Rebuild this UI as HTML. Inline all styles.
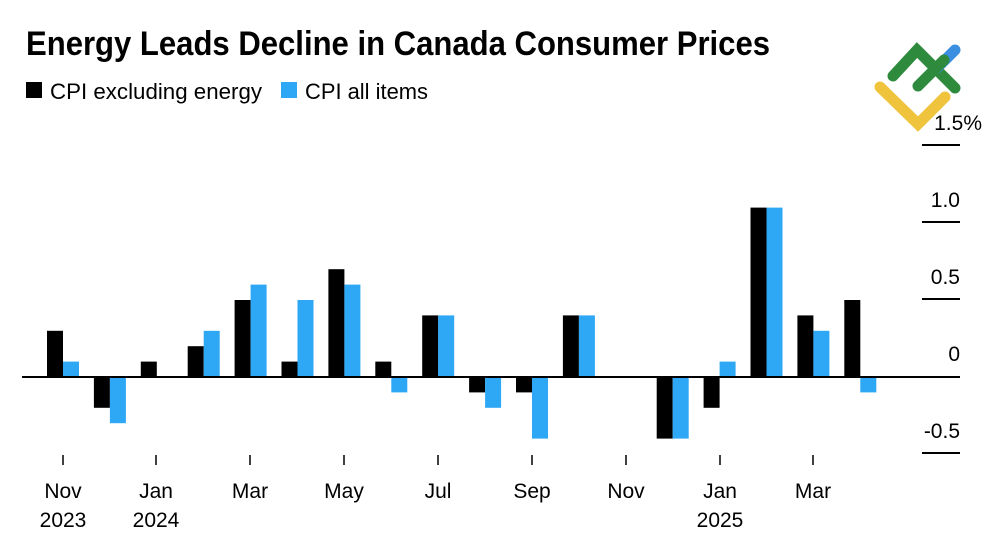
<!DOCTYPE html>
<html><head><meta charset="utf-8"><style>html,body{margin:0;padding:0;background:#fff}svg{display:block}</style></head>
<body>
<svg width="1000" height="545" viewBox="0 0 1000 545" xmlns="http://www.w3.org/2000/svg" font-family="Liberation Sans, Arial, sans-serif">
<text x="26" y="55" font-size="34" font-weight="bold" textLength="744" lengthAdjust="spacingAndGlyphs" fill="#000">Energy Leads Decline in Canada Consumer Prices</text>
<rect x="26" y="82" width="16" height="16" fill="#000"/>
<text x="50" y="99" font-size="22" textLength="212" lengthAdjust="spacingAndGlyphs">CPI excluding energy</text>
<rect x="281" y="82" width="16" height="16" fill="#2ea8f5"/>
<text x="305" y="99" font-size="22" textLength="123" lengthAdjust="spacingAndGlyphs">CPI all items</text>
<g fill="none" stroke-linecap="round" stroke-width="11">
<path d="M880 87 L918 124 L945 97" stroke="#f0c33c"/>
<path d="M893 76 L917 50 L955 88" stroke="#2e8b3e"/>
<path d="M955 50 L937 68" stroke="#3b8fe0"/>
<path d="M918 86 L944 60" stroke="#2e8b3e"/>
</g>
<g font-size="21" fill="#000" text-anchor="end">
<text x="982" y="130">1.5%</text>
<text x="960" y="207">1.0</text>
<text x="960" y="284">0.5</text>
<text x="960" y="361">0</text>
<text x="960" y="438">-0.5</text>
</g>
<g stroke="#000" stroke-width="2">
<line x1="922" y1="145" x2="960" y2="145"/>
<line x1="922" y1="222" x2="960" y2="222"/>
<line x1="922" y1="299" x2="960" y2="299"/>
<line x1="922" y1="453" x2="960" y2="453"/>
</g>
<g fill="#000">
<rect x="47" y="330.8" width="16" height="46.2"/>
<rect x="93.9" y="377" width="16" height="30.8"/>
<rect x="140.8" y="361.6" width="16" height="15.4"/>
<rect x="187.7" y="346.2" width="16" height="30.8"/>
<rect x="234.6" y="300" width="16" height="77"/>
<rect x="281.5" y="361.6" width="16" height="15.4"/>
<rect x="328.4" y="269.2" width="16" height="107.8"/>
<rect x="375.3" y="361.6" width="16" height="15.4"/>
<rect x="422.2" y="315.4" width="16" height="61.6"/>
<rect x="469.1" y="377" width="16" height="15.4"/>
<rect x="516" y="377" width="16" height="15.4"/>
<rect x="562.9" y="315.4" width="16" height="61.6"/>
<rect x="656.7" y="377" width="16" height="61.6"/>
<rect x="703.6" y="377" width="16" height="30.8"/>
<rect x="750.5" y="207.6" width="16" height="169.4"/>
<rect x="797.4" y="315.4" width="16" height="61.6"/>
<rect x="844.3" y="300" width="16" height="77"/>
</g>
<g fill="#2ea8f5">
<rect x="63" y="361.6" width="16" height="15.4"/>
<rect x="109.9" y="377" width="16" height="46.2"/>
<rect x="203.7" y="330.8" width="16" height="46.2"/>
<rect x="250.6" y="284.6" width="16" height="92.4"/>
<rect x="297.5" y="300" width="16" height="77"/>
<rect x="344.4" y="284.6" width="16" height="92.4"/>
<rect x="391.3" y="377" width="16" height="15.4"/>
<rect x="438.2" y="315.4" width="16" height="61.6"/>
<rect x="485.1" y="377" width="16" height="30.8"/>
<rect x="532" y="377" width="16" height="61.6"/>
<rect x="578.9" y="315.4" width="16" height="61.6"/>
<rect x="672.7" y="377" width="16" height="61.6"/>
<rect x="719.6" y="361.6" width="16" height="15.4"/>
<rect x="766.5" y="207.6" width="16" height="169.4"/>
<rect x="813.4" y="330.8" width="16" height="46.2"/>
<rect x="860.3" y="377" width="16" height="15.4"/>
</g>
<line x1="22" y1="377" x2="960" y2="377" stroke="#000" stroke-width="2"/>
<g stroke="#000" stroke-width="1.5">
<line x1="63" y1="455" x2="63" y2="465"/><line x1="156" y1="455" x2="156" y2="465"/>
<line x1="250" y1="455" x2="250" y2="465"/><line x1="344" y1="455" x2="344" y2="465"/>
<line x1="438" y1="455" x2="438" y2="465"/><line x1="532" y1="455" x2="532" y2="465"/>
<line x1="626" y1="455" x2="626" y2="465"/><line x1="720" y1="455" x2="720" y2="465"/>
<line x1="813" y1="455" x2="813" y2="465"/>
</g>
<g font-size="21" text-anchor="middle">
<text x="63" y="498">Nov</text><text x="63" y="527">2023</text>
<text x="156" y="498">Jan</text><text x="156" y="527">2024</text>
<text x="250" y="498">Mar</text><text x="344" y="498">May</text>
<text x="438" y="498">Jul</text><text x="532" y="498">Sep</text>
<text x="626" y="498">Nov</text><text x="720" y="498">Jan</text><text x="720" y="527">2025</text>
<text x="813" y="498">Mar</text>
</g>
</svg>
</body></html>
